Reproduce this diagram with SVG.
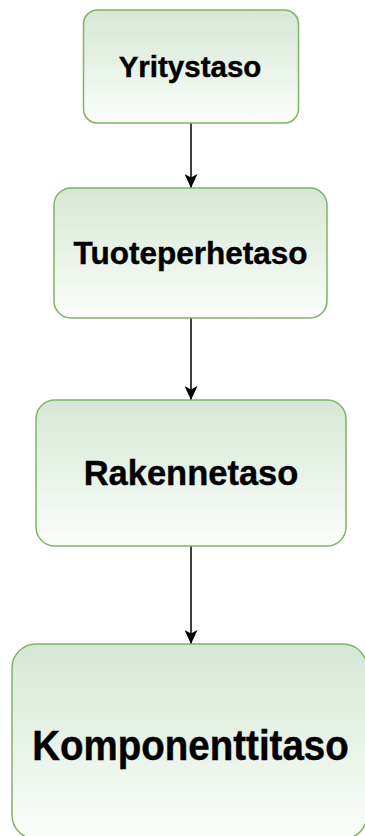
<svg xmlns="http://www.w3.org/2000/svg" width="365" height="836" viewBox="0 0 365 836">
  <defs>
    <linearGradient id="greenFill" x1="0" y1="0" x2="0" y2="1">
      <stop offset="0" stop-color="#d5e8d4"/>
      <stop offset="1" stop-color="#fbfdfb"/>
    </linearGradient>
    <marker id="arrowHead" viewBox="0 0 14 13" refX="14" refY="6.5" markerWidth="14" markerHeight="13" markerUnits="userSpaceOnUse" orient="auto">
      <path d="M0,0 L14,6.5 L0,13 L3.5,6.5 Z" fill="#000"/>
    </marker>
  </defs>
  <style>
    .box { fill: url(#greenFill); stroke: #82b366; stroke-width: 1.5; }
    .label { font-family: "Liberation Sans", Arial, sans-serif; font-weight: bold; fill: #000; stroke: #000; stroke-width: 0.4; text-anchor: middle; }
    .edge { stroke: #000; stroke-width: 1.5; fill: none; marker-end: url(#arrowHead); }
  </style>
  <rect width="365" height="836" fill="#fff"/>

  <!-- connectors -->
  <g id="connectors">
    <line class="edge" x1="191" y1="123" x2="191" y2="188"/>
    <line class="edge" x1="191" y1="318" x2="191" y2="400"/>
    <line class="edge" x1="191" y1="546" x2="191" y2="644"/>
  </g>

  <!-- hierarchy levels -->
  <g id="yritystaso">
    <rect class="box" x="83.5" y="10" width="215" height="113" rx="14" ry="14"/>
    <text class="label" x="190" y="77" font-size="29.5">Yritystaso</text>
  </g>
  <g id="tuoteperhetaso">
    <rect class="box" x="54" y="188" width="273" height="130" rx="17" ry="17"/>
    <text class="label" x="190.5" y="263.5" font-size="31.5">Tuoteperhetaso</text>
  </g>
  <g id="rakennetaso">
    <rect class="box" x="36" y="400" width="310" height="146" rx="19" ry="19"/>
    <text class="label" x="191" y="485" font-size="34.5">Rakennetaso</text>
  </g>
  <g id="komponenttitaso">
    <rect class="box" x="12" y="644" width="355" height="195" rx="24" ry="24"/>
    <text class="label" transform="translate(190.5 760) scale(1 1.1)" font-size="38.5">Komponenttitaso</text>
  </g>
</svg>
